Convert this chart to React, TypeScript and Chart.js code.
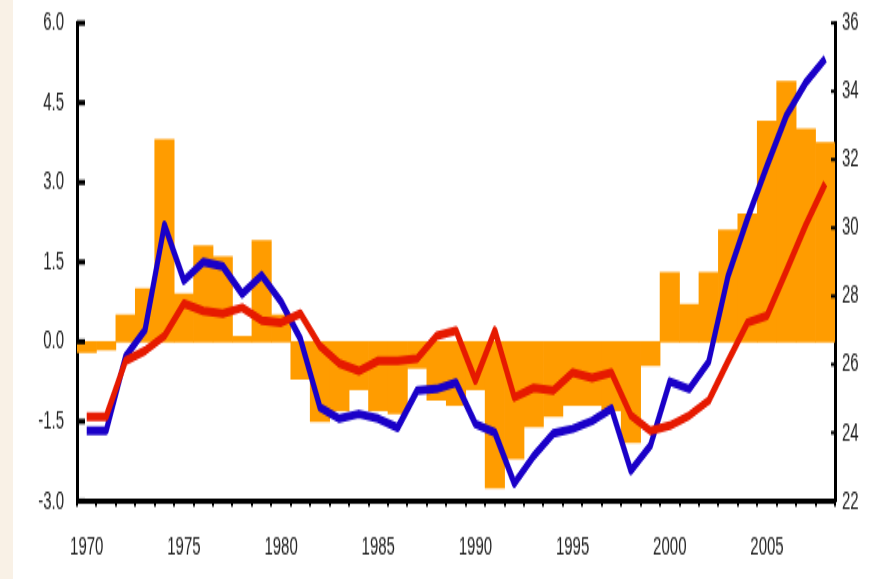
import React, { useEffect, useRef } from "react";
import { Chart, registerables } from "chart.js";

Chart.register(...registerables);

// Categories (years)
const years = [
  "1970", "1971", "1972", "1973", "1974", "1975", "1976", "1977", "1978", "1979",
  "1980", "1981", "1982", "1983", "1984", "1985", "1986", "1987", "1988", "1989",
  "1990", "1991", "1992", "1993", "1994", "1995", "1996", "1997", "1998", "1999",
  "2000", "2001", "2002", "2003", "2004", "2005", "2006", "2007", "2008",
];

// Year labels shown on the x axis
const xTickLabels = ["1970", "1975", "1980", "1985", "1990", "1995", "2000", "2005"];

// Orange bars (left axis)
const barValues = [
  -0.2, -0.15, 0.5, 1.0, 3.8, 0.9, 1.8, 1.6, 0.1, 1.9,
  0.5, -0.7, -1.5, -1.3, -0.9, -1.3, -1.35, -0.5, -1.1, -1.2,
  -0.9, -2.75, -2.2, -1.6, -1.4, -1.2, -1.2, -1.3, -1.9, -0.45,
  1.3, 0.7, 1.3, 2.1, 2.4, 4.15, 4.9, 4.0, 3.75,
];

// Blue line (left axis units)
const blueValues = [
  -1.68, -1.68, -0.28, 0.22, 2.2, 1.15, 1.5, 1.42, 0.9, 1.25,
  0.75, 0.05, -1.24, -1.45, -1.36, -1.45, -1.62, -0.92, -0.89, -0.77,
  -1.55, -1.71, -2.67, -2.15, -1.73, -1.64, -1.49, -1.26, -2.43, -1.96,
  -0.75, -0.89, -0.38, 1.24, 2.32, 3.31, 4.26, 4.88, 5.33,
];

// Red line (left axis units)
const redValues = [
  -1.41, -1.41, -0.36, -0.17, 0.11, 0.72, 0.58, 0.53, 0.64, 0.4,
  0.36, 0.53, -0.08, -0.41, -0.55, -0.36, -0.36, -0.32, 0.11, 0.21,
  -0.73, 0.21, -1.05, -0.87, -0.92, -0.58, -0.68, -0.58, -1.39, -1.68,
  -1.58, -1.39, -1.11, -0.36, 0.36, 0.49, 1.34, 2.2, 2.98,
];

// Axis settings
const leftMin = -3;
const leftMax = 6;
const leftStep = 1.5;
const rightMin = 22;
const rightMax = 36;
const rightStep = 2;

const W = 874;
const H = 331;
const SY = 579 / H;

const tickFont = { family: '"Liberation Sans", Arial, sans-serif', size: 15 };
const tickColor = "#222222";

const inwardTicks = {
  id: "inwardTicks",
  afterDatasetsDraw(chart: any) {
    const ctx = chart.ctx;
    const area = chart.chartArea;
    const y = chart.scales.y;
    const y1 = chart.scales.y1;
    ctx.save();
    ctx.strokeStyle = "#000";
    ctx.lineWidth = 3;
    y.ticks.forEach((t: any) => {
      const py = y.getPixelForValue(t.value);
      ctx.beginPath();
      ctx.moveTo(area.left, py);
      ctx.lineTo(area.left + 8, py);
      ctx.stroke();
    });
    ctx.lineWidth = 2;
    y1.ticks.forEach((t: any) => {
      const py = y1.getPixelForValue(t.value);
      ctx.beginPath();
      ctx.moveTo(area.right, py);
      ctx.lineTo(area.right - 4, py);
      ctx.stroke();
    });
    ctx.restore();
  },
};

export default function App() {
  const canvasRef = useRef<HTMLCanvasElement | null>(null);

  useEffect(() => {
    if (!canvasRef.current) return;
    const chart = new Chart(canvasRef.current, {
      type: "bar",
      data: {
        labels: years,
        datasets: [
          {
            type: "line",
            label: "Blue",
            data: blueValues,
            borderColor: "#1a00c8",
            borderWidth: 5,
            pointRadius: 0,
            tension: 0,
            borderJoinStyle: "round",
            yAxisID: "y",
            order: 2,
          } as any,
          {
            type: "line",
            label: "Red",
            data: redValues,
            borderColor: "#e61a00",
            borderWidth: 5,
            pointRadius: 0,
            tension: 0,
            borderJoinStyle: "round",
            yAxisID: "y",
            order: 1,
          } as any,
          {
            type: "bar",
            label: "Bars",
            data: barValues,
            backgroundColor: "rgb(255,156,0)",
            borderWidth: 0,
            barPercentage: 1,
            categoryPercentage: 1,
            yAxisID: "y",
            order: 3,
          },
        ],
      },
      options: {
        responsive: false,
        animation: false,
        devicePixelRatio: 1,
        layout: { padding: { top: 23 / SY, left: 0, right: 0, bottom: 0 } },
        plugins: {
          legend: { display: false },
          tooltip: { enabled: false },
        },
        scales: {
          x: {
            type: "category",
            offset: true,
            grid: {
              offset: true,
              drawOnChartArea: false,
              drawTicks: true,
              tickLength: 3,
              color: "#000",
              lineWidth: 2,
            },
            border: { display: true, color: "#000", width: 3 },
            ticks: {
              autoSkip: false,
              maxRotation: 0,
              minRotation: 0,
              padding: 14,
              color: tickColor,
              font: tickFont,
              callback: (_v: any, i: number) =>
                xTickLabels.includes(years[i]) ? years[i] : "",
            },
            afterFit: (s: any) => {
              s.height = H - 501 / SY;
              s.paddingLeft = 0;
              s.paddingRight = 0;
            },
          },
          y: {
            position: "left",
            min: leftMin,
            max: leftMax,
            grid: { display: false, drawTicks: false },
            border: { display: true, color: "#000", width: 3 },
            ticks: {
              stepSize: leftStep,
              padding: 13,
              color: tickColor,
              font: tickFont,
              callback: (v: any) => Number(v).toFixed(1),
            },
            afterFit: (s: any) => {
              s.width = 77;
              s.paddingTop = 0;
              s.paddingBottom = 0;
            },
          },
          y1: {
            position: "right",
            min: rightMin,
            max: rightMax,
            grid: { display: false, drawTicks: false },
            border: { display: true, color: "#000", width: 3 },
            ticks: {
              stepSize: rightStep,
              padding: 7,
              color: tickColor,
              font: tickFont,
            },
            afterFit: (s: any) => {
              s.width = W - 835;
              s.paddingTop = 0;
              s.paddingBottom = 0;
            },
          },
        },
      },
      plugins: [inwardTicks],
    });
    return () => chart.destroy();
  }, []);

  return (
    <div
      style={{
        position: "fixed",
        left: 0,
        top: 0,
        width: W,
        height: 579,
        background: "#ffffff",
        overflow: "hidden",
      }}
    >
      <div
        style={{
          position: "absolute",
          left: 0,
          top: 0,
          width: 13,
          height: 579,
          background: "rgb(249,241,230)",
        }}
      />
      <div
        style={{
          position: "absolute",
          left: 0,
          top: 0,
          width: W,
          height: H,
          transform: `scaleY(${SY})`,
          transformOrigin: "0 0",
        }}
      >
        <canvas ref={canvasRef} width={W} height={H} style={{ display: "block" }} />
      </div>
    </div>
  );
}
